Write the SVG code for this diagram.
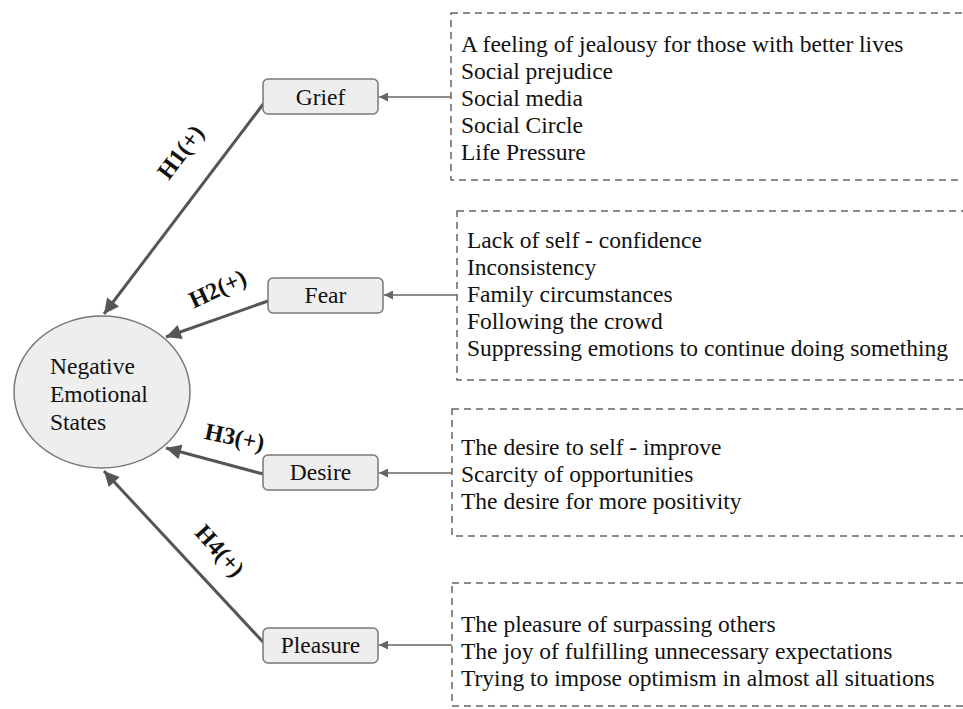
<svg xmlns="http://www.w3.org/2000/svg" width="963" height="709" viewBox="0 0 963 709">
  <style>
    .bg { fill: #ffffff; }
    .node rect { fill: #eeeeee; stroke: #777777; stroke-width: 1.5; }
    .node ellipse { fill: #eeeeee; stroke: #777777; stroke-width: 1.5; }
    .lbl { font-family: "Liberation Serif", "Times New Roman", serif; font-size: 23.5px; fill: #111111; }
    .mid { text-anchor: middle; }
    .hyp { font-family: "Liberation Serif", "Times New Roman", serif; font-size: 24px; font-weight: bold; fill: #111111; text-anchor: middle; }
    .list rect { fill: none; stroke: #666666; stroke-width: 1.5; stroke-dasharray: 7 5; }
    .main { stroke: #555555; stroke-width: 3; fill: none; }
    .feed { stroke: #666666; stroke-width: 1.5; fill: none; }
  </style>
  <defs>
    <marker id="bigHead" viewBox="0 0 10 10" refX="10" refY="5" markerWidth="6" markerHeight="5" markerUnits="strokeWidth" orient="auto">
      <path d="M0,0 L10,5 L0,10 Z" fill="#555555"/>
    </marker>
    <marker id="smallHead" viewBox="0 0 10 10" refX="10" refY="5" markerWidth="8" markerHeight="6" markerUnits="strokeWidth" orient="auto">
      <path d="M0,0 L10,5 L0,10 Z" fill="#666666"/>
    </marker>
  </defs>

  <rect class="bg" x="0" y="0" width="963" height="709"/>

  <!-- factor lists -->
  <g id="list-grief" class="list">
    <rect x="451" y="13" width="530" height="167"/>
    <text class="lbl" x="461" y="52">A feeling of jealousy for those with better lives</text>
    <text class="lbl" x="461" y="79">Social prejudice</text>
    <text class="lbl" x="461" y="106">Social media</text>
    <text class="lbl" x="461" y="133">Social Circle</text>
    <text class="lbl" x="461" y="160">Life Pressure</text>
  </g>
  <g id="list-fear" class="list">
    <rect x="457" y="211" width="530" height="169"/>
    <text class="lbl" x="467" y="248">Lack of self - confidence</text>
    <text class="lbl" x="467" y="275">Inconsistency</text>
    <text class="lbl" x="467" y="302">Family circumstances</text>
    <text class="lbl" x="467" y="329">Following the crowd</text>
    <text class="lbl" x="467" y="356">Suppressing emotions to continue doing something</text>
  </g>
  <g id="list-desire" class="list">
    <rect x="452" y="409" width="530" height="127"/>
    <text class="lbl" x="461" y="455">The desire to self - improve</text>
    <text class="lbl" x="461" y="482">Scarcity of opportunities</text>
    <text class="lbl" x="461" y="509">The desire for more positivity</text>
  </g>
  <g id="list-pleasure" class="list">
    <rect x="452" y="583" width="530" height="123"/>
    <text class="lbl" x="461" y="632">The pleasure of surpassing others</text>
    <text class="lbl" x="461" y="659">The joy of fulfilling unnecessary expectations</text>
    <text class="lbl" x="461" y="686">Trying to impose optimism in almost all situations</text>
  </g>

  <!-- connectors -->
  <g id="connectors">
    <line class="feed" x1="451" y1="97" x2="379" y2="97" marker-end="url(#smallHead)"/>
    <line class="feed" x1="457" y1="295" x2="384" y2="295" marker-end="url(#smallHead)"/>
    <line class="feed" x1="452" y1="473" x2="379" y2="473" marker-end="url(#smallHead)"/>
    <line class="feed" x1="452" y1="645" x2="379" y2="645" marker-end="url(#smallHead)"/>

    <line class="main" x1="264" y1="103" x2="104" y2="314" marker-end="url(#bigHead)"/>
    <line class="main" x1="268" y1="301" x2="166" y2="337" marker-end="url(#bigHead)"/>
    <line class="main" x1="263" y1="474" x2="166" y2="448" marker-end="url(#bigHead)"/>
    <line class="main" x1="263" y1="642" x2="104" y2="471" marker-end="url(#bigHead)"/>

    <text class="hyp" transform="translate(187,157) rotate(-53)">H1(+)</text>
    <text class="hyp" transform="translate(221,296) rotate(-25)">H2(+)</text>
    <text class="hyp" transform="translate(233,445) rotate(12)">H3(+)</text>
    <text class="hyp" transform="translate(214,556) rotate(48)">H4(+)</text>
  </g>

  <!-- nodes -->
  <g id="node-outcome" class="node">
    <ellipse cx="102" cy="392" rx="88" ry="76"/>
    <text class="lbl" x="50" y="374">Negative</text>
    <text class="lbl" x="50" y="402">Emotional</text>
    <text class="lbl" x="50" y="430">States</text>
  </g>
  <g id="node-grief" class="node">
    <rect x="263" y="79" width="115" height="35" rx="5"/>
    <text class="lbl mid" x="320.5" y="105">Grief</text>
  </g>
  <g id="node-fear" class="node">
    <rect x="268" y="278" width="115" height="35" rx="5"/>
    <text class="lbl mid" x="325.5" y="303">Fear</text>
  </g>
  <g id="node-desire" class="node">
    <rect x="263" y="455" width="115" height="35" rx="5"/>
    <text class="lbl mid" x="320.5" y="480">Desire</text>
  </g>
  <g id="node-pleasure" class="node">
    <rect x="263" y="628" width="115" height="35" rx="5"/>
    <text class="lbl mid" x="320.5" y="653">Pleasure</text>
  </g>
</svg>
